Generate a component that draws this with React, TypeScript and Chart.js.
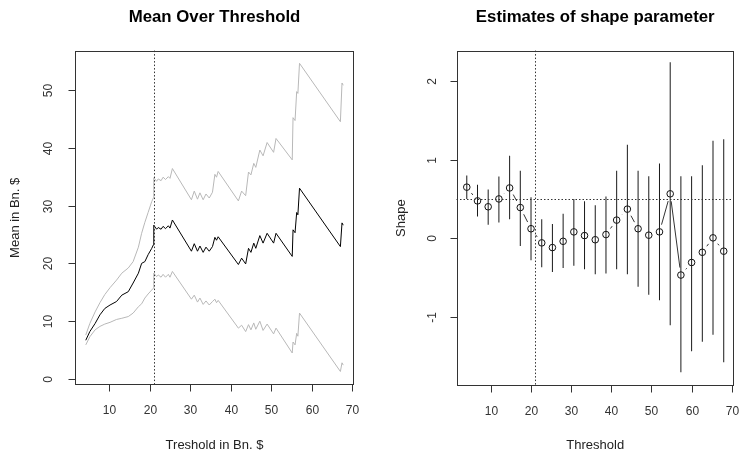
import React, { useEffect, useRef } from 'react';
import { Chart, registerables } from 'chart.js';

Chart.register(...registerables);

// ---------- Left panel: Mean Over Threshold ----------
const motThreshold = [
  4.2, 5.2, 6.5, 7.7, 8.9, 10.2, 11.8, 13.1, 14.7, 15.9, 17.2, 18.0, 18.8, 19.6, 20.5, 20.9,
  21.0, 21.7, 22.1, 22.8, 23.3, 23.9, 24.6, 25.0, 25.6,
  30.3, 31.0, 31.8, 32.4, 33.2, 33.9, 34.7, 35.5, 36.1, 36.5, 36.9,
  41.9, 42.7, 43.7, 44.4, 45.0, 45.7, 46.2, 47.2, 48.0, 49.0, 50.6, 51.2,
  55.2, 55.4, 55.9, 56.3, 56.6, 57.0,
  67.1, 67.5, 67.8,
];
const motMean = [
  6.7, 8.2, 9.6, 11.1, 12.2, 12.8, 13.4, 14.5, 15.1, 16.6, 18.3, 20.0, 20.3, 21.5, 22.6, 23.2,
  26.6, 25.9, 26.2, 25.9, 26.4, 26.0, 26.5, 26.1, 27.5,
  22.1, 23.4, 22.1, 23.0, 21.9, 22.8, 22.1, 22.9, 24.5, 24.0, 24.6,
  19.8, 20.9, 19.9, 22.6, 21.9, 23.5, 22.6, 24.8, 23.5, 25.2, 23.5, 25.2,
  21.2, 25.8, 25.3, 28.8, 28.4, 33.0,
  22.9, 27.0, 26.6,
];
const motUpper = [
  7.6, 9.6, 11.6, 13.2, 14.6, 15.8, 17.1, 18.3, 19.2, 20.3, 22.8, 25.2, 27.1, 28.8, 30.7, 31.3,
  34.8, 34.2, 34.6, 34.3, 34.9, 34.5, 35.0, 34.7, 36.4,
  31.0, 32.5, 31.1, 32.2, 31.0, 32.0, 31.3, 32.3, 35.4, 34.9, 35.9,
  30.8, 32.5, 31.7, 35.8, 35.3, 37.3, 36.6, 39.6, 38.6, 40.9, 39.2, 41.6,
  37.9, 45.2, 44.7, 49.7, 49.4, 54.6,
  44.5, 51.2, 50.8,
];
const motLower = [
  5.9, 7.3, 8.5, 9.1, 9.5, 9.8, 10.3, 10.5, 10.8, 11.4, 12.5, 13.0, 14.0, 14.7, 15.4, 15.7,
  18.3, 17.7, 18.0, 17.6, 18.1, 17.6, 18.1, 17.6, 18.6,
  13.8, 14.5, 13.3, 14.0, 12.9, 13.5, 12.8, 13.4, 13.8, 13.2, 13.6,
  8.8, 9.3, 8.2, 9.4, 8.5, 9.7, 8.6, 10.0, 8.4, 9.5, 7.8, 8.8,
  4.5, 6.4, 5.9, 7.9, 7.4, 11.4,
  1.3, 2.8, 2.4,
];
const motYTicks = [0, 10, 20, 30, 40, 50];

// ---------- Right panel: Estimates of shape parameter ----------
const shapeThreshold = [
  4, 6.67, 9.33, 12, 14.67, 17.33, 20, 22.67, 25.33, 28, 30.67, 33.33, 36,
  38.67, 41.33, 44, 46.67, 49.33, 52, 54.67, 57.33, 60, 62.67, 65.33, 68,
];
const shapeEstimate = [
  0.65, 0.475, 0.40, 0.50, 0.64, 0.39, 0.12, -0.06, -0.12, -0.04, 0.08, 0.033, -0.02,
  0.046, 0.23, 0.37, 0.12, 0.038, 0.08, 0.565, -0.47, -0.31, -0.18, 0.004, -0.166,
];
const shapeUpper = [
  0.80, 0.68, 0.62, 0.785, 1.05, 0.86, 0.52, 0.24, 0.18, 0.31, 0.50, 0.47, 0.42,
  0.53, 0.86, 1.19, 0.86, 0.79, 0.95, 2.24, 0.79, 0.79, 0.93, 1.24, 1.26,
];
const shapeLower = [
  0.50, 0.275, 0.17, 0.20, 0.24, -0.10, -0.28, -0.37, -0.43, -0.38, -0.35, -0.395, -0.46,
  -0.45, -0.395, -0.46, -0.62, -0.72, -0.79, -1.11, -1.71, -1.44, -1.32, -1.23, -1.58,
];
const shapeYTicks = [-1, 0, 1, 2];
const shapeReference = 0.5;

const xTicks = [10, 20, 30, 40, 50, 60, 70];
const chosenThreshold = 21;

const FONT = '"Liberation Sans", Arial, sans-serif';

type FrameCfg = {
  title: string;
  xTitle: string;
  yTitle: string;
  yTicks: number[];
  yTickLabelX: number;
  yTitleX: number;
  vLines: number[];
  hLines: number[];
};

function rFrame(cfg: FrameCfg) {
  return {
    id: 'rFrame',
    afterDatasetsDraw(chart: any) {
      const { ctx, chartArea: a, scales } = chart;
      const x = scales.x;
      const y = scales.y;
      ctx.save();
      ctx.strokeStyle = '#333';
      ctx.lineWidth = 1;
      ctx.setLineDash([1.5, 2]);
      cfg.vLines.forEach((v) => {
        const px = Math.round(x.getPixelForValue(v)) + 0.5;
        ctx.beginPath();
        ctx.moveTo(px, a.top);
        ctx.lineTo(px, a.bottom);
        ctx.stroke();
      });
      cfg.hLines.forEach((v) => {
        const py = Math.round(y.getPixelForValue(v)) + 0.5;
        ctx.beginPath();
        ctx.moveTo(a.left, py);
        ctx.lineTo(a.right, py);
        ctx.stroke();
      });
      ctx.restore();
    },
    afterDraw(chart: any) {
      const { ctx, chartArea: a, scales } = chart;
      const x = scales.x;
      const y = scales.y;
      ctx.save();
      ctx.strokeStyle = '#333';
      ctx.lineWidth = 1;
      const L = Math.round(a.left) + 0.5;
      const R = Math.round(a.right) - 0.5;
      const T = Math.round(a.top) + 0.5;
      const B = Math.round(a.bottom) - 0.5;
      ctx.strokeRect(L, T, R - L, B - T);
      // x ticks
      ctx.fillStyle = '#333';
      ctx.font = `12px ${FONT}`;
      ctx.textAlign = 'center';
      ctx.textBaseline = 'middle';
      xTicks.forEach((v) => {
        const px = Math.round(x.getPixelForValue(v)) + 0.5;
        ctx.beginPath();
        ctx.moveTo(px, B);
        ctx.lineTo(px, B + 7);
        ctx.stroke();
        ctx.fillText(String(v), px, B + 26);
      });
      // y ticks
      cfg.yTicks.forEach((v) => {
        const py = Math.round(y.getPixelForValue(v)) + 0.5;
        ctx.beginPath();
        ctx.moveTo(L, py);
        ctx.lineTo(L - 7, py);
        ctx.stroke();
        ctx.save();
        ctx.translate(cfg.yTickLabelX, py);
        ctx.rotate(-Math.PI / 2);
        ctx.fillText(String(v), 0, 0);
        ctx.restore();
      });
      // titles
      const cx = (a.left + a.right) / 2;
      const cy = (a.top + a.bottom) / 2;
      ctx.fillStyle = '#000';
      ctx.font = `bold 16.8px ${FONT}`;
      ctx.fillText(cfg.title, cx, 17);
      ctx.fillStyle = '#222';
      ctx.font = `13px ${FONT}`;
      ctx.fillText(cfg.xTitle, cx, 445);
      ctx.save();
      ctx.translate(cfg.yTitleX, cy);
      ctx.rotate(-Math.PI / 2);
      ctx.fillText(cfg.yTitle, 0, 0);
      ctx.restore();
      ctx.restore();
    },
  };
}

// connecting line with gaps around the points (R type = "b")
const gappedLine = {
  id: 'gappedLine',
  afterDatasetsDraw(chart: any) {
    const { ctx, scales } = chart;
    const x = scales.x;
    const y = scales.y;
    const gap = 7.5;
    ctx.save();
    ctx.strokeStyle = '#333';
    ctx.lineWidth = 1;
    for (let i = 0; i < shapeThreshold.length - 1; i++) {
      const x0 = x.getPixelForValue(shapeThreshold[i]);
      const y0 = y.getPixelForValue(shapeEstimate[i]);
      const x1 = x.getPixelForValue(shapeThreshold[i + 1]);
      const y1 = y.getPixelForValue(shapeEstimate[i + 1]);
      const d = Math.hypot(x1 - x0, y1 - y0);
      if (d <= 2 * gap) continue;
      const ux = (x1 - x0) / d;
      const uy = (y1 - y0) / d;
      ctx.beginPath();
      ctx.moveTo(x0 + ux * gap, y0 + uy * gap);
      ctx.lineTo(x1 - ux * gap, y1 - uy * gap);
      ctx.stroke();
    }
    ctx.restore();
  },
};

export default function App() {
  const leftRef = useRef<HTMLCanvasElement | null>(null);
  const rightRef = useRef<HTMLCanvasElement | null>(null);

  useEffect(() => {
    const line = (ys: number[], color: string) => ({
      type: 'scatter',
      data: motThreshold.map((t, i) => ({ x: t, y: ys[i] })),
      showLine: true,
      borderColor: color,
      borderWidth: 1,
      pointRadius: 0,
      tension: 0,
    });

    const left = new Chart(leftRef.current as HTMLCanvasElement, {
      type: 'scatter',
      data: {
        datasets: [line(motUpper, '#b8b8b8'), line(motLower, '#b8b8b8'), line(motMean, '#000')] as any,
      },
      options: {
        responsive: false,
        animation: false,
        events: [],
        layout: { padding: { left: 74.6, right: 15.6, top: 50.6, bottom: 70 } },
        scales: {
          x: { type: 'linear', min: 1.44, max: 70.56, display: false, offset: false },
          y: { type: 'linear', min: -1.04, max: 56.8, display: false },
        },
        plugins: { legend: { display: false }, tooltip: { enabled: false } },
      },
      plugins: [
        rFrame({
          title: 'Mean Over Threshold',
          xTitle: 'Treshold in Bn. $',
          yTitle: 'Mean in Bn. $',
          yTicks: motYTicks,
          yTickLabelX: 49,
          yTitleX: 15,
          vLines: [chosenThreshold],
          hLines: [],
        }),
      ],
    } as any);

    const right = new Chart(rightRef.current as HTMLCanvasElement, {
      type: 'scatter',
      data: {
        datasets: [
          {
            type: 'bar',
            data: shapeThreshold.map((t, i) => ({ x: t, y: [shapeLower[i], shapeUpper[i]] })),
            backgroundColor: '#1a1a1a',
            borderWidth: 0,
            barThickness: 1,
            inflateAmount: 0,
          },
          {
            type: 'scatter',
            data: shapeThreshold.map((t, i) => ({ x: t, y: shapeEstimate[i] })),
            pointRadius: 3.3,
            pointStyle: 'circle',
            borderColor: '#111',
            borderWidth: 1,
            backgroundColor: 'rgba(0,0,0,0)',
            showLine: false,
          },
        ],
      },
      options: {
        responsive: false,
        animation: false,
        events: [],
        layout: { padding: { left: 86.5, right: 3, top: 50.6, bottom: 69.3 } },
        scales: {
          x: { type: 'linear', min: 1.44, max: 70.56, display: false, offset: false },
          y: { type: 'linear', min: -1.88, max: 2.39, display: false },
        },
        plugins: { legend: { display: false }, tooltip: { enabled: false } },
      },
      plugins: [
        gappedLine,
        rFrame({
          title: 'Estimates of shape parameter',
          xTitle: 'Threshold',
          yTitle: 'Shape',
          yTicks: shapeYTicks,
          yTickLabelX: 62.5,
          yTitleX: 31,
          vLines: [chosenThreshold],
          hLines: [shapeReference],
        }),
      ],
    } as any);

    return () => {
      left.destroy();
      right.destroy();
    };
  }, []);

  return (
    <div
      style={{
        position: 'absolute',
        left: 0,
        top: 0,
        width: 739,
        height: 455,
        background: '#fff',
        overflow: 'hidden',
      }}
    >
      <canvas
        ref={leftRef}
        width={370}
        height={455}
        style={{ position: 'absolute', left: 0, top: 0, width: 370, height: 455 }}
      />
      <canvas
        ref={rightRef}
        width={369}
        height={455}
        style={{ position: 'absolute', left: 370, top: 0, width: 369, height: 455 }}
      />
    </div>
  );
}
